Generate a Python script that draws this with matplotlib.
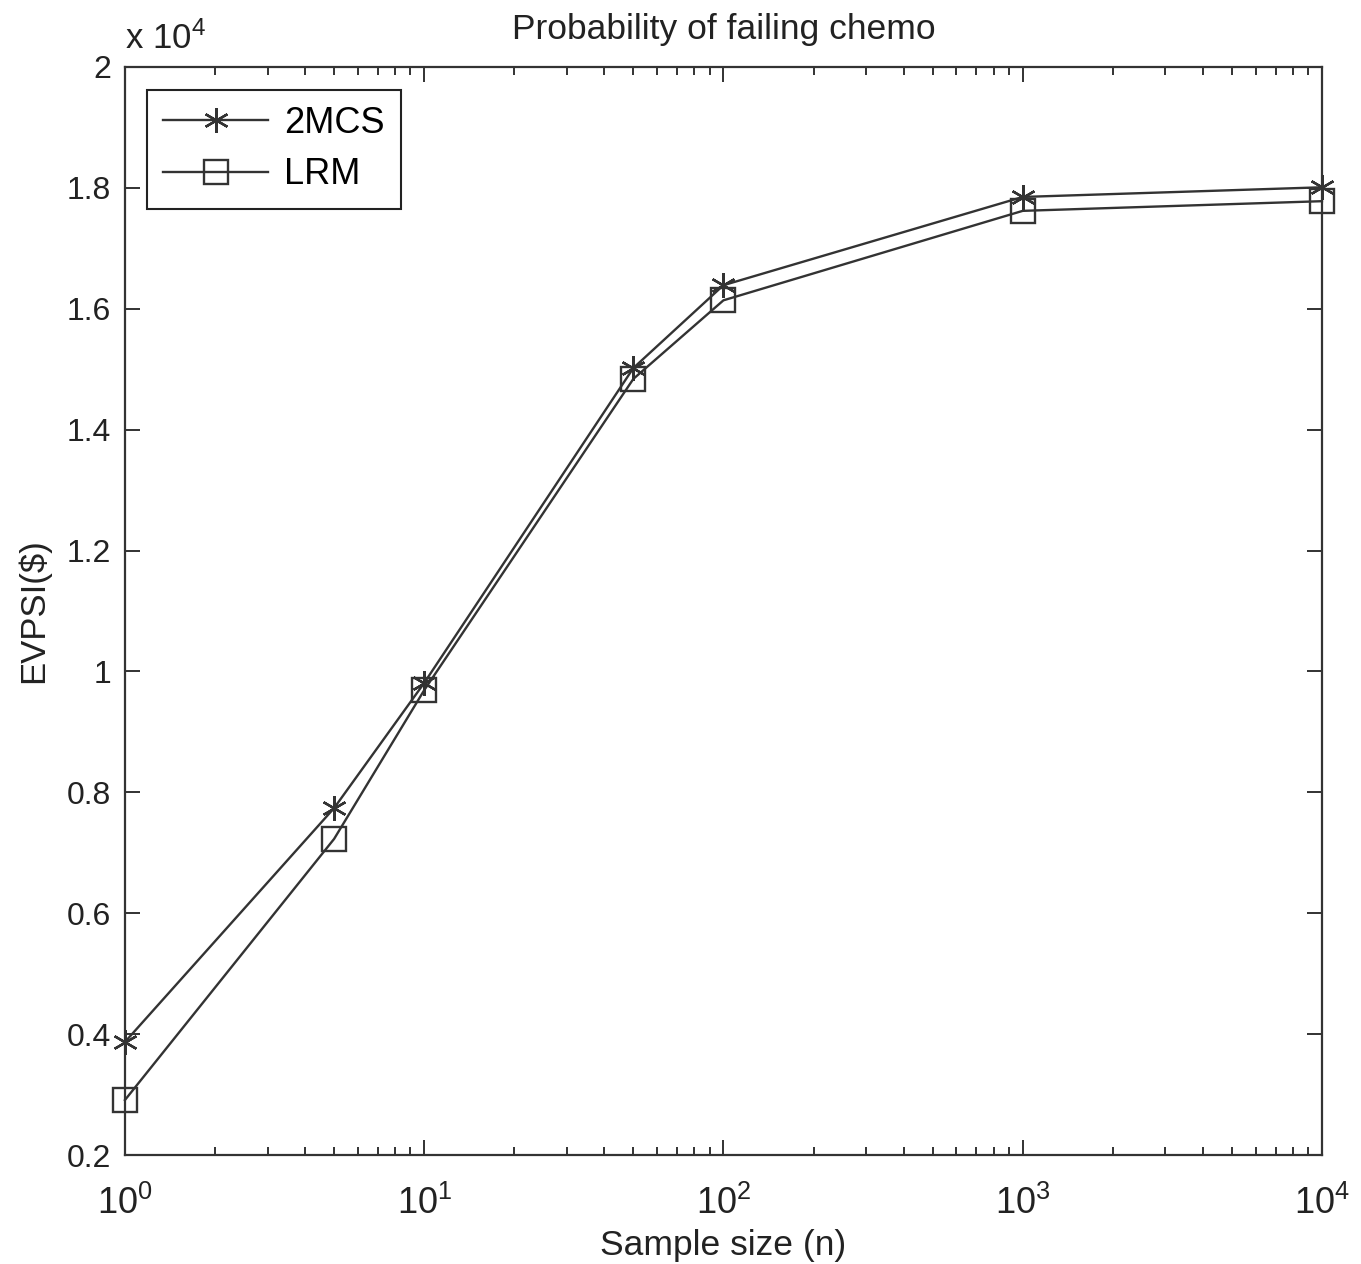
import math
import matplotlib
matplotlib.use("Agg")
import matplotlib.pyplot as plt
from matplotlib.ticker import FuncFormatter, LogLocator, NullFormatter, FixedLocator

plt.rcParams['font.family'] = ['Liberation Sans', 'DejaVu Sans']
plt.rcParams['mathtext.fontset'] = 'custom'
plt.rcParams['mathtext.rm'] = 'Liberation Sans'

sample_sizes = [1, 5, 10, 50, 100, 1000, 10000]
evpsi_2mcs = [3870, 7740, 9810, 15020, 16390, 17850, 18010]
evpsi_lrm = [2910, 7230, 9690, 14840, 16140, 17620, 17780]
yticks = [2000, 4000, 6000, 8000, 10000, 12000, 14000, 16000, 18000, 20000]
xticks = [1, 10, 100, 1000, 10000]

fig = plt.figure(figsize=(13.61, 12.64), dpi=100)
ax = fig.add_axes([0.0918, 0.0862, 0.8795, 0.8608])

col = '#333333'
ax.plot(sample_sizes, evpsi_2mcs, color=col, lw=1.7, marker=(6, 2, 0),
        markersize=18, markeredgewidth=1.7, label='2MCS', clip_on=False)
ax.plot(sample_sizes, evpsi_lrm, color=col, lw=1.7, marker='s',
        markersize=17, markerfacecolor='none', markeredgewidth=1.7,
        label='LRM', clip_on=False)

ax.set_xscale('log')
ax.set_xlim(1, 10000)
ax.set_ylim(2000, 20000)
ax.set_yticks(yticks)
ax.yaxis.set_major_formatter(FuncFormatter(lambda v, p: '%g' % (v / 1e4)))
ax.xaxis.set_major_locator(FixedLocator(xticks))
ax.xaxis.set_minor_locator(LogLocator(base=10, subs=range(2, 10)))
ax.xaxis.set_minor_formatter(NullFormatter())
ax.xaxis.set_major_formatter(FuncFormatter(
    lambda v, p: r'$\mathregular{10^{%d}}$' % round(math.log10(v))))

ax.tick_params(which='both', direction='in', top=True, right=True,
               colors='#222222', width=1.3)
ax.tick_params(axis='y', labelsize=23, pad=10)
ax.tick_params(axis='x', labelsize=26, pad=22)
ax.tick_params(which='major', length=11)
ax.tick_params(which='minor', length=6)
for s in ax.spines.values():
    s.set_linewidth(1.6)
    s.set_color('#333333')

ax.set_title('Probability of failing chemo', fontsize=25.5, pad=20, color='#222222')
ax.set_xlabel('Sample size (n)', fontsize=25.5, color='#222222', labelpad=5)
ax.set_ylabel('EVPSI($)', fontsize=25, color='#222222', labelpad=12)
ax.text(0.0, 1.01, r'x $\mathregular{10^{4}}$', transform=ax.transAxes,
        fontsize=25, ha='left', va='bottom', color='#222222')

leg = ax.legend(loc='upper left', bbox_to_anchor=(0.0185, 0.979), fontsize=26,
                handlelength=2.9, borderpad=0.45, labelspacing=0.45,
                handletextpad=0.45, borderaxespad=0.0, fancybox=False,
                edgecolor='#222222', framealpha=1)
leg.get_frame().set_linewidth(1.5)

fig.savefig('out.png', dpi=100)
